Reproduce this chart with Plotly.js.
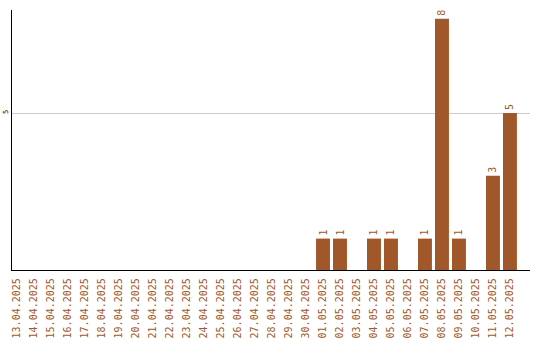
<!DOCTYPE html>
<html>
<head>
<meta charset="utf-8">
<script src="https://cdn.plot.ly/plotly-3.0.1.min.js"></script>
<style>
  html, body { margin: 0; padding: 0; background: #fff; }
  #chart { width: 540px; height: 340px; }
</style>
</head>
<body>
<div id="chart"></div>
<script>
// Daily counts, 13.04.2025 – 12.05.2025
const dates = [
  "13.04.2025", "14.04.2025", "15.04.2025", "16.04.2025", "17.04.2025",
  "18.04.2025", "19.04.2025", "20.04.2025", "21.04.2025", "22.04.2025",
  "23.04.2025", "24.04.2025", "25.04.2025", "26.04.2025", "27.04.2025",
  "28.04.2025", "29.04.2025", "30.04.2025", "01.05.2025", "02.05.2025",
  "03.05.2025", "04.05.2025", "05.05.2025", "06.05.2025", "07.05.2025",
  "08.05.2025", "09.05.2025", "10.05.2025", "11.05.2025", "12.05.2025"
];
const counts = [
  0, 0, 0, 0, 0,
  0, 0, 0, 0, 0,
  0, 0, 0, 0, 0,
  0, 0, 0, 1, 1,
  0, 1, 1, 0, 1,
  8, 1, 0, 3, 5
];
const yTicks = [5];

const barColor = "#a0572a";
const labels = counts.map(v => (v > 0 ? String(v) : ""));

const trace = {
  type: "bar",
  x: dates,
  y: counts,
  marker: { color: barColor },
  text: labels,
  textposition: "outside",
  textangle: -90,
  cliponaxis: false,
  textfont: { family: "DejaVu Sans Mono", size: 10, color: barColor },
  hoverinfo: "x+y"
};

const layout = {
  width: 540,
  height: 340,
  margin: { l: 12, r: 10, t: 10, b: 70, pad: 0 },
  paper_bgcolor: "#fff",
  plot_bgcolor: "#fff",
  bargap: 0.18,
  showlegend: false,
  xaxis: {
    type: "category",
    range: [-0.3, 30.18],
    tickangle: -90,
    tickfont: { family: "DejaVu Sans Mono", size: 10, color: barColor },
    showgrid: false,
    zeroline: false,
    showline: true,
    linecolor: "#000",
    linewidth: 1.2,
    ticks: "",
    ticklabelstandoff: 3
  },
  yaxis: {
    range: [0, 8.28],
    tickvals: yTicks,
    ticktext: yTicks.map(String),
    tickangle: -90,
    tickfont: { family: "DejaVu Sans Mono", size: 7, color: "#000" },
    showgrid: true,
    gridcolor: "#cccccc",
    gridwidth: 1,
    zeroline: false,
    showline: true,
    linecolor: "#000",
    linewidth: 1.2,
    ticks: "",
    ticklabelstandoff: 0
  }
};

Plotly.newPlot("chart", [trace], layout, { displayModeBar: false, staticPlot: true });
</script>
</body>
</html>
